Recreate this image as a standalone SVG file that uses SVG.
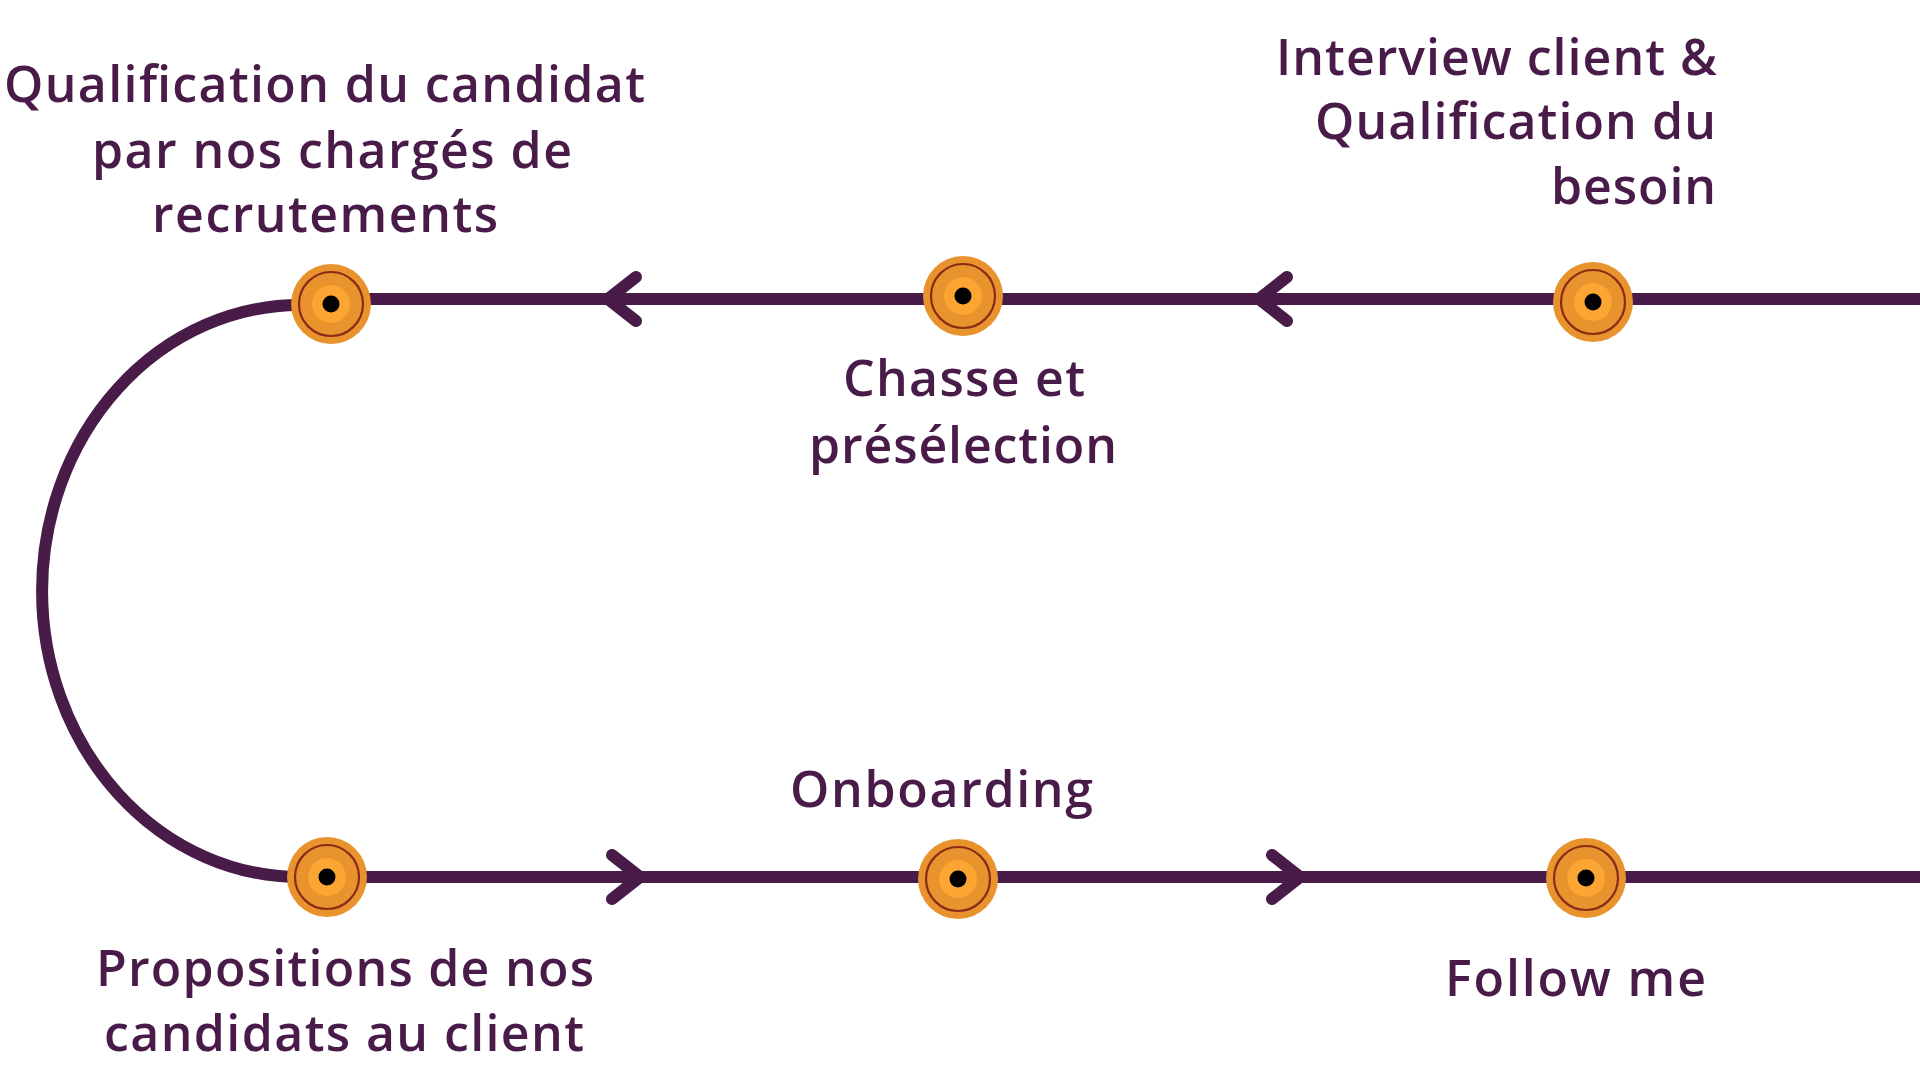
<svg xmlns="http://www.w3.org/2000/svg" width="1920" height="1080" viewBox="0 0 1920 1080">
<style>
.track{fill:none;stroke:#481b48;stroke-width:12;stroke-linecap:butt}
.chev{fill:none;stroke:#481b48;stroke-width:12;stroke-linecap:round;stroke-linejoin:round}
.outer{fill:#e8932d}
.ring{fill:none;stroke:#8c2a18;stroke-width:2.2}
.inner{fill:#fba533}
.dot{fill:#000}
.lbl{font-family:"Open Sans","Liberation Sans",sans-serif;font-weight:600;font-size:50px;fill:#481b48}
</style>
<defs>
<g id="node">
<circle class="outer" r="40"/>
<circle class="ring" r="32"/>
<circle class="inner" r="19"/>
<circle class="dot" r="8.5"/>
</g>
</defs>
<rect width="1920" height="1080" fill="#fff"/>
<g id="connectors">
<path class="track" d="M331 299 H1920"/>
<path class="track" d="M327 877 H1920"/>
<path class="track" d="M300 305 A 258 286 0 0 0 300 877"/>
<path class="chev" d="M636 277 L608 299 L636 321"/>
<path class="chev" d="M1287 277 L1259 299 L1287 321"/>
<path class="chev" d="M612 855 L640 877 L612 899"/>
<path class="chev" d="M1272 855 L1300 877 L1272 899"/>
</g>
<g id="n1"><use href="#node" x="331" y="304"/>
<text class="lbl" x="4" y="102" textLength="641">Qualification du candidat</text>
<text class="lbl" x="92" y="168" textLength="480">par nos chargés de</text>
<text class="lbl" x="152" y="232" textLength="346">recrutements</text>
</g>
<g id="n2"><use href="#node" x="963" y="296"/>
<text class="lbl" x="843" y="396" textLength="242">Chasse et</text>
<text class="lbl" x="809" y="463" textLength="308">présélection</text>
</g>
<g id="n3"><use href="#node" x="1593" y="302"/>
<text class="lbl" x="1276" y="75" textLength="441">Interview client &amp;</text>
<text class="lbl" x="1315" y="139" textLength="401">Qualification du</text>
<text class="lbl" x="1551" y="204" textLength="165">besoin</text>
</g>
<g id="n4"><use href="#node" x="327" y="877"/>
<text class="lbl" x="96" y="986" textLength="498">Propositions de nos</text>
<text class="lbl" x="104" y="1051" textLength="480">candidats au client</text>
</g>
<g id="n5"><use href="#node" x="958" y="879"/>
<text class="lbl" x="790" y="807" textLength="303">Onboarding</text>
</g>
<g id="n6"><use href="#node" x="1586" y="878"/>
<text class="lbl" x="1445" y="996" textLength="261">Follow me</text>
</g>
</svg>
